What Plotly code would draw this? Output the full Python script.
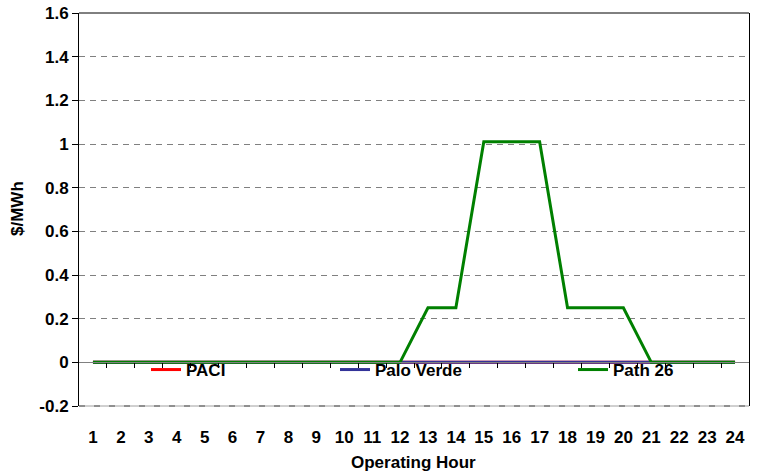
import plotly.graph_objects as go

hours = list(range(1, 25))
paci = [0.0] * 24
palo_verde = [0.0] * 24
path26 = [0, 0, 0, 0, 0, 0, 0, 0, 0, 0, 0, 0,
          0.25, 0.25, 1.01, 1.01, 1.01, 0.25, 0.25, 0.25, 0, 0, 0, 0]
y_ticks = [-0.2, 0, 0.2, 0.4, 0.6, 0.8, 1, 1.2, 1.4, 1.6]
y_labels = ["-0.2", "0", "0.2", "0.4", "0.6", "0.8", "1", "1.2", "1.4", "1.6"]

FONT = "Liberation Sans, Arial, sans-serif"
bold = dict(family=FONT, size=17, color="black", weight="bold")

W, H = 759, 476
ML, MR, MT = 79, 10, 13
PH = 393
MB = H - MT - PH
PW = W - ML - MR


def px_x(x):
    return (x - ML) / PW


def px_y(y):
    return (H - MB - y) / PH


fig = go.Figure()
fig.add_trace(go.Scatter(x=hours, y=paci, mode="lines", name="PACI",
                         line=dict(color="#FF0000", width=3), legend="legend"))
fig.add_trace(go.Scatter(x=hours, y=palo_verde, mode="lines", name="Palo Verde",
                         line=dict(color="#333399", width=3), legend="legend2"))
fig.add_trace(go.Scatter(x=hours, y=path26, mode="lines", name="Path 26",
                         line=dict(color="#008000", width=3), legend="legend3"))
# helper trace for the zero-crossing category axis
fig.add_trace(go.Scatter(x=hours, y=[None] * 24, xaxis="x2", showlegend=False,
                         hoverinfo="skip"))

leg_common = dict(orientation="h", yanchor="middle", y=px_y(370), xanchor="left",
                  bgcolor="rgba(0,0,0,0)", font=bold, itemwidth=30)

fig.update_layout(
    width=W, height=H,
    margin=dict(l=ML, r=MR, t=MT, b=MB, autoexpand=False),
    paper_bgcolor="white", plot_bgcolor="white",
    font=bold,
    showlegend=True,
    legend=dict(x=px_x(146), **leg_common),
    legend2=dict(x=px_x(335), **leg_common),
    legend3=dict(x=px_x(573), **leg_common),
    xaxis=dict(range=[0.5, 24.5], tickvals=hours, ticktext=[str(h) for h in hours],
               showgrid=False, zeroline=False, showline=False, automargin=False,
               ticks="outside", ticklen=16, tickcolor="rgba(0,0,0,0)",
               tickfont=bold),
    xaxis2=dict(range=[0.5, 24.5], overlaying="x", anchor="free",
                position=(0 - (-0.2)) / 1.8, side="bottom", automargin=False,
                tickvals=[h + 0.5 for h in hours[:-1]], showticklabels=False,
                ticks="outside", ticklen=5, tickcolor="#000000", tickwidth=1,
                showline=True, linecolor="#808080", linewidth=1,
                showgrid=False, zeroline=False),
    yaxis=dict(range=[-0.2, 1.6], tickvals=y_ticks, ticktext=y_labels,
               showgrid=True, gridcolor="#808080", griddash="6px,5px", gridwidth=1,
               zeroline=False, showline=True, linecolor="black", linewidth=1,
               mirror=True, ticks="outside", ticklen=6, tickcolor="black",
               tickfont=bold, automargin=False, ticklabeloverflow="allow"),
    shapes=[
        dict(type="line", xref="paper", yref="paper", x0=0, x1=1, y0=1, y1=1,
             line=dict(color="black", width=1), layer="above"),
        dict(type="line", xref="paper", yref="paper", x0=0, x1=1, y0=0, y1=0,
             line=dict(color="#a0a0a0", width=1), layer="above"),
        dict(type="line", xref="paper", yref="paper", x0=0, x1=1, y0=0, y1=0,
             line=dict(color="#505050", width=1, dash="6px,9px"), layer="above"),
    ],
    annotations=[
        dict(text="Operating Hour", x=px_x(413), y=px_y(462), xref="paper", yref="paper",
             showarrow=False, font=bold, xanchor="center", yanchor="middle"),
        dict(text="$/MWh", x=px_x(17), y=px_y(209), xref="paper", yref="paper",
             showarrow=False, font=bold, textangle=-90,
             xanchor="center", yanchor="middle"),
    ],
)

fig.write_html("out.html",
               config={"displayModeBar": False},
               post_script="document.body.style.margin='0';"
                           "document.body.style.overflow='hidden';")
